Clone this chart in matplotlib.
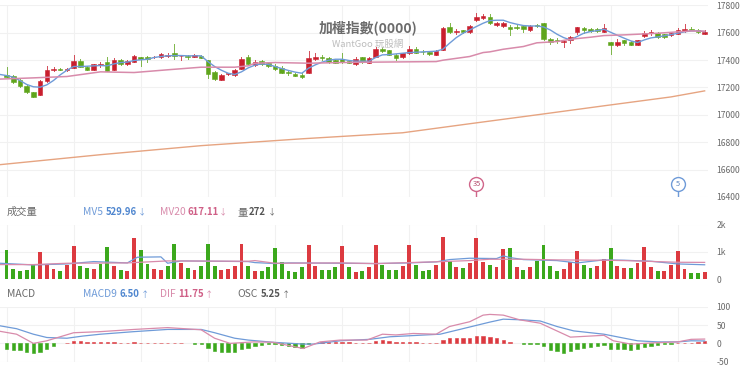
import matplotlib
matplotlib.use('Agg')
import matplotlib.pyplot as plt

plt.rcParams['font.family'] = ['Noto Sans CJK TC', 'DejaVu Sans']

# candles, one entry per bar, bar numbers start at 1
opens = [17290,17283,17253,17210,17168,17146,17244,17329,17334,17326,17343,17392,17351,17331,17365,17387,17326,17404,17370,17389,
         17421,17421,17419,17421,17431,17450,17431,17431,17426,17433,17397,17312,17256,17297,17290,17336,17419,17365,17392,17377,
         17355,17343,17312,17297,17290,17307,17411,17421,17414,17397,17411,17392,17370,17419,17380,17426,17484,17472,17436,17421,
         17448,17484,17462,17460,17440,17477,17642,17608,17618,17606,17691,17710,17717,17657,17652,17642,17645,17649,17620,17654,
         17669,17555,17543,17533,17543,17603,17632,17630,17625,17608,17530,17509,17543,17533,17513,17579,17596,17601,17589,17581,
         17594,17613,17625,17623,17594]
highs = [17353,17290,17261,17217,17168,17256,17360,17351,17343,17343,17438,17406,17358,17372,17387,17419,17414,17406,17399,17436,
         17421,17431,17433,17450,17450,17516,17436,17436,17445,17438,17402,17321,17300,17309,17334,17421,17438,17402,17399,17387,
         17372,17358,17326,17304,17309,17465,17450,17436,17421,17402,17450,17397,17421,17421,17421,17492,17492,17474,17445,17450,
         17506,17494,17474,17462,17474,17640,17669,17628,17623,17654,17742,17737,17735,17681,17681,17654,17654,17654,17654,17664,
         17671,17564,17564,17547,17577,17645,17640,17635,17632,17662,17533,17555,17550,17538,17547,17615,17620,17603,17594,17603,
         17632,17664,17640,17628,17620]
lows = [17273,17234,17202,17163,17132,17144,17241,17317,17324,17319,17341,17346,17326,17326,17353,17317,17324,17363,17365,17385,
        17355,17385,17414,17416,17426,17411,17402,17406,17421,17414,17270,17256,17253,17292,17285,17334,17363,17360,17363,17353,
        17331,17304,17292,17285,17270,17302,17402,17402,17380,17377,17380,17377,17365,17377,17377,17421,17460,17436,17404,17416,
        17445,17450,17445,17438,17436,17472,17601,17594,17601,17601,17688,17700,17664,17649,17645,17584,17628,17608,17615,17645,
        17547,17521,17523,17492,17528,17594,17601,17606,17608,17603,17445,17504,17513,17511,17509,17572,17584,17564,17562,17574,
        17589,17608,17618,17601,17591]
closes = [17280,17241,17207,17166,17132,17249,17329,17338,17326,17338,17394,17353,17331,17368,17370,17321,17402,17368,17394,17433,
          17409,17411,17426,17445,17440,17431,17433,17423,17436,17416,17295,17261,17292,17304,17329,17411,17368,17387,17372,17358,
          17338,17309,17307,17287,17275,17414,17423,17414,17387,17380,17387,17382,17409,17385,17416,17484,17467,17440,17414,17448,
          17482,17455,17457,17443,17467,17635,17606,17613,17608,17652,17717,17725,17669,17674,17674,17628,17635,17625,17649,17649,
          17552,17535,17538,17540,17572,17640,17620,17615,17611,17632,17509,17533,17523,17513,17543,17601,17608,17567,17569,17596,
          17618,17628,17620,17606,17606]

# price averages, MA5 has one value per bar starting at bar 0
ma5 = [17295,17287,17275,17251,17222,17205,17202,17219,17251,17292,17326,17353,17353,17355,17358,17360,17358,17372,17382,17385,
       17397,17402,17406,17419,17426,17431,17433,17433,17431,17431,17431,17389,17353,17326,17304,17295,17314,17343,17363,17372,
       17368,17353,17338,17324,17312,17304,17341,17365,17385,17399,17406,17406,17397,17392,17392,17392,17419,17438,17440,17445,
       17450,17455,17457,17460,17462,17465,17479,17523,17564,17596,17620,17645,17669,17688,17691,17691,17674,17662,17652,17649,
       17649,17642,17620,17589,17564,17547,17572,17596,17608,17615,17625,17603,17581,17560,17540,17528,17547,17562,17569,17577,
       17586,17596,17606,17613,17613,17608]
ma20_x = [0,5,10,15,20,25,30,35,37,38,41,46,51,56,65,66,70,72,73,75,78,80,83,85,88,90,93,96,98,101,103,105]
ma20 = [17261,17270,17280,17314,17309,17329,17348,17348,17358,17377,17382,17377,17382,17385,17389,17399,17426,17455,17460,
        17479,17499,17526,17535,17552,17567,17579,17584,17591,17596,17606,17613,17611]
ma60_x = [0,15,30,45,60,70,80,90,100,105]
ma60 = [16636,16709,16775,16825,16869,16935,17000,17066,17131,17175]

volume = [1070,378,293,342,537,1000,561,378,317,525,1220,488,427,390,549,1196,500,342,317,1525,
          1074,561,390,342,476,1281,586,415,342,476,1293,476,342,390,488,1281,476,317,293,464,
          1147,647,317,268,439,1244,488,342,342,464,1220,439,268,317,464,1269,512,342,342,488,
          1244,537,317,342,512,1562,659,439,415,598,1525,647,525,451,1110,1147,464,342,439,671,
          1244,488,317,366,634,1049,525,415,488,744,1147,488,415,415,598,1171,439,293,293,512,
          1049,390,244,244,272]
vol_side = list('gggggrrrgr' 'rggrggrgrr' 'ggrrggrgrg' 'ggrrrrgrgg' 'gggggrrggg'
                'rgrgrrgggr' 'rgggrrgrgr' 'rrgrrgrgrg' 'gggrrrggrr' 'grrgrrrgrr' 'rrggr')
mv5_x = [0,5,10,14,19,20.5,24,25,27,37,38,41,43,51,56,61,65,67,70,73,74,75,76,78,83,86,90,93,97,101,105]
mv5 = [586,525,561,647,598,806,818,586,671,647,610,574,598,586,574,598,635,720,769,760,757,854,793,720,683,598,708,696,659,561,530]
mv20_x = [0,5,10,19,25,37,38,41,51,56,66,70,73,78,83,90,93,101,105]
mv20 = [537,537,586,598,671,659,683,586,598,574,647,683,732,732,708,696,683,622,617]

macd9_x = [0,2.5,5,7,10,12.4,15,20,25,30,32,35,37,40.7,45.2,46.7,50.7,55.1,58.1,65.6,73,75,78,80.5,83,85.5,90,95,98,101,103,105]
macd9 = [48,40,25,16,14,20,25,32,38,38,29,14,9,3,-2,-2,7,11,18,25,58,66,64,61,46,34,25,7,4,4,7,6.5]
dif_x = [0,2.5,5,7,11,15,20,25,30,32,34.3,37.8,40.7,45.2,47.7,50.7,54.7,57,59,61.6,65,67,70,72,73,75,77.5,80.5,85,90,91.4,94,98,101,103,105]
dif = [33,25,0,7,29,32,38,43,37,14,0,4,3,-14,4,9,9,25,23,27,25,46,59,77,79,77,64,55,17,22,7,-2,2,4,11,11.75]
osc = [-16,-17,-19,-23,-25,-24,-14,-6,0,1.5,6,6,4,3,3,3,3,2,2,3,
       2,2,1.5,2,1.5,1.5,1.5,0,-1.5,-1.5,-12,-20,-23,-24,-24,-15,-12,-6,-4,-3,
       -3,-4,-8,-10,-12,-2,2,4,3,3,3,3,2,2,2,6,8,6,3,3,
       3,3,2,1.5,1,8,14,15,15,15,20,21,17,14,8,3,0,-2,-2,-3,
       -7,-19,-22,-25,-22,-15,-12,-9,-8,-5,-15,-15,-16,-18,-14,-9,-6,-4,-2,-1,
       0.5,1.5,2,3,5.25]

price_ticks = [16400,16600,16800,17000,17200,17400,17600,17800]
vol_ticks = [0,1000,2000]
vol_labels = ['0','1k','2k']
macd_ticks = [-50,0,50,100]

W, H = 740, 370
RED = '#c91f2e'
GREEN = '#5fa51c'
VRED = '#dc3a40'
VGREEN = '#3ba81c'
BLUE = '#6f9bd8'
PINK = '#d88bab'
ORANGE = '#e6a481'
GRID = '#f1f1f1'
TXT = '#6a6a6a'

bars = list(range(1, len(volume) + 1))
x_lim = (0.03, 105.5)


def panel(top, bottom, ylim, ticks, labels=None):
    ax = fig.add_axes([0, 1 - bottom / H, 708 / W, (bottom - top) / H])
    ax.set_xlim(*x_lim)
    ax.set_ylim(*ylim)
    for s in ax.spines.values():
        s.set_visible(False)
    ax.yaxis.tick_right()
    ax.set_yticks(ticks)
    ax.set_yticklabels(labels if labels else [str(t) for t in ticks])
    ax.set_xticks(range(1, 106, 10))
    ax.set_xticklabels([])
    ax.tick_params(length=0, labelsize=6.2, labelcolor=TXT, pad=6)
    ax.grid(True, color=GRID, lw=0.8)
    ax.set_axisbelow(True)
    return ax


def label(x, y, s, color=TXT, size=7.4, weight='normal'):
    fig.text(x / W, 1 - y / H, s, color=color, fontsize=size, fontweight=weight, va='center', ha='left')


fig = plt.figure(figsize=(W / 100, H / 100), dpi=100, facecolor='white')

ax1 = panel(5.3, 197, (16400, 17800), price_ticks)
for i, o, h, l, c in zip(bars, opens, highs, lows, closes):
    col = RED if c >= o else GREEN
    ax1.plot([i, i], [l, h], color=col, lw=0.7, alpha=0.8, zorder=2)
    ax1.bar(i, abs(c - o), bottom=min(o, c), width=0.68, color=col, edgecolor=col, lw=0.4, zorder=3)
ax1.plot(range(len(ma5)), ma5, color=BLUE, lw=1.0, zorder=4)
ax1.plot(ma20_x, ma20, color=PINK, lw=1.1, zorder=4)
ax1.plot(ma60_x, ma60, color=ORANGE, lw=1.0, zorder=4)

# event markers
for bar, txt, col, tc in [(71, '35', '#d0668a', '#b5506f'), (101, '5', '#6f9bd8', '#5c86c0')]:
    ax1.plot([bar, bar], [16400, 16450], color=col, lw=1.0, zorder=4)
    ax1.plot(bar, 16497, 'o', ms=10, mfc='white', mec=col, mew=1.0, zorder=5)
    ax1.text(bar, 16497, txt, color=tc, fontsize=5.4, ha='center', va='center', zorder=6)

fig.text(368 / W, 1 - 28 / H, '加權指數(0000)', color='#6b6b6b', fontsize=10, fontweight='bold', ha='center', va='center')
fig.text(368 / W, 1 - 44 / H, 'WantGoo 玩股網', color='#bcbcbc', fontsize=6.8, ha='center', va='center')

ax2 = panel(224.5, 279.3, (0, 2000), vol_ticks, vol_labels)
ax2.bar(bars, volume, width=0.58, color=[VRED if s == 'r' else VGREEN for s in vol_side], zorder=3)
ax2.plot(mv5_x, mv5, color=BLUE, lw=0.9, zorder=4)
ax2.plot(mv20_x, mv20, color=PINK, lw=0.9, zorder=4)

ax3 = panel(306.7, 361.7, (-50, 100), macd_ticks)
osc_bars = [(b, v) for b, v in zip(bars, osc) if v != 0]
ax3.bar([b for b, v in osc_bars], [v for b, v in osc_bars], width=0.5,
        color=[VRED if v > 0 else VGREEN for b, v in osc_bars],
        edgecolor=[VRED if v > 0 else VGREEN for b, v in osc_bars], lw=0.4, zorder=3)
ax3.plot(macd9_x, macd9, color=BLUE, lw=0.9, zorder=4)
ax3.plot(dif_x, dif, color=PINK, lw=0.9, zorder=4)

label(7, 212, '成交量')
label(83, 212, 'MV5', BLUE)
label(106, 212, '529.96', '#4f86cf', size=6.9, weight='bold')
label(137.5, 212, '↓', BLUE, size=6)
label(160, 212, 'MV20', PINK)
label(188, 212, '617.11', '#cf5f86', size=6.9, weight='bold')
label(218.5, 212, '↓', PINK, size=6)
label(237, 212, '量')
label(249, 212, '272', '#555555', size=6.9, weight='bold')
label(268, 212, '↓', size=6)

label(7, 294, 'MACD')
label(83, 294, 'MACD9', BLUE)
label(120, 294, '6.50', '#4f86cf', size=6.9, weight='bold')
label(140.5, 294, '↑', BLUE, size=6)
label(160, 294, 'DIF', PINK)
label(178, 294, '11.75', '#cf5f86', size=6.9, weight='bold')
label(204.5, 294, '↑', PINK, size=6)
label(237, 294, 'OSC')
label(261, 294, '5.25', '#555555', size=6.9, weight='bold')
label(282, 294, '↑', size=6)

fig.savefig('out.png', dpi=100)
